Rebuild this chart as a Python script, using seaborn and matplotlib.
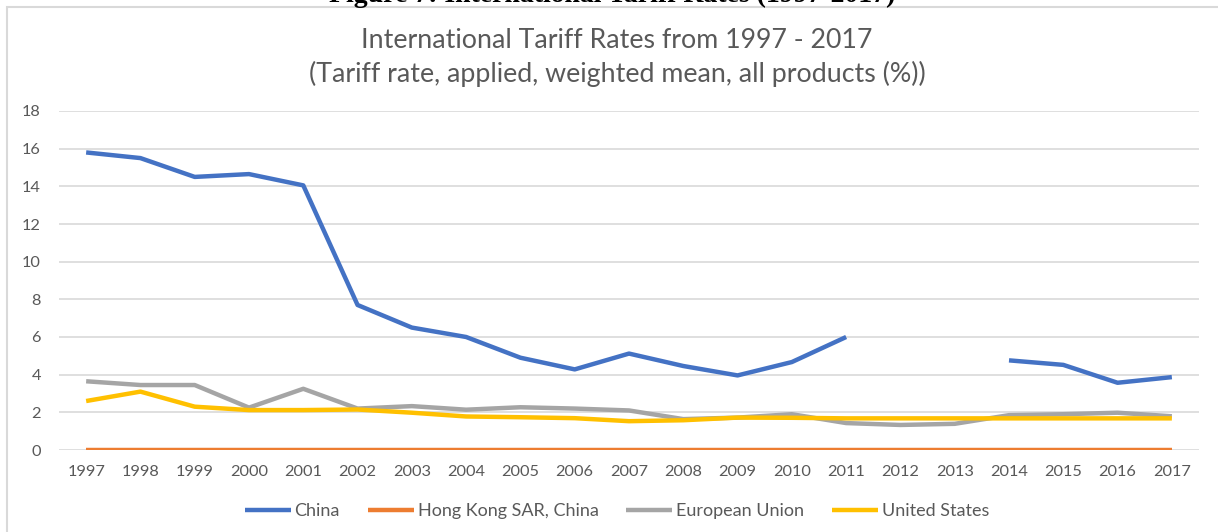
import numpy as np
import pandas as pd
import matplotlib
matplotlib.use("Agg")
import matplotlib.pyplot as plt
import seaborn as sns
from matplotlib.patches import Rectangle

sns.set_style("white")
plt.rcParams['font.family'] = ['Lato', 'DejaVu Sans']

# --------------------------- data ---------------------------
years = list(range(1997, 2018))
china = [15.8, 15.5, 14.5, 14.65, 14.05, 7.7, 6.5, 6.0, 4.9, 4.28, 5.12,
         4.46, 3.96, 4.67, 6.0, np.nan, np.nan, 4.76, 4.52, 3.57, 3.87]
hong_kong = [0.0] * 21
eu = [3.65, 3.45, 3.45, 2.25, 3.25, 2.2, 2.33, 2.14, 2.27, 2.2, 2.1,
      1.64, 1.72, 1.9, 1.43, 1.33, 1.39, 1.85, 1.9, 1.98, 1.79]
us = [2.6, 3.1, 2.3, 2.12, 2.12, 2.15, 1.98, 1.78, 1.74, 1.69, 1.53,
      1.58, 1.72, 1.71, 1.68, 1.68, 1.68, 1.68, 1.68, 1.68, 1.68]

series_names = ["China", "Hong Kong SAR, China", "European Union", "United States"]
series_values = [china, hong_kong, eu, us]
colors = ["#4472C4", "#ED7D31", "#A5A5A5", "#FFC000"]

title_line1 = "International Tariff Rates from 1997 - 2017"
title_line2 = "(Tariff rate, applied, weighted mean, all products (%))"
caption = "Figure 7: International Tariff Rates (1997-2017)"

text_color = "#595959"
lw = 3.2
fs = 11.8

# --------------------------- figure ---------------------------
fig = plt.figure(figsize=(12.18, 5.32), dpi=100)
ax = fig.add_axes([59 / 1218, 1 - 450 / 532, 1140 / 1218, 339 / 532])

# chart border (Excel chart area), runs off the right/bottom edges
fig.patches.append(Rectangle((7 / 1218, -0.1), 1.2, 1 - 7 / 532 + 0.1,
                             transform=fig.transFigure, fill=False,
                             edgecolor="#d9d9d9", linewidth=1.5, zorder=0))

# cropped document caption at very top (only its lower edge is visible)
fig.text(0.503, 1 - 2 / 532, caption, ha="center", va="baseline",
         fontsize=20, fontweight="bold", family="Liberation Serif", color="black")

for name, vals, col in zip(series_names, series_values, colors):
    df = pd.DataFrame({"year": years, "value": vals})
    # break the line where data is missing
    df["seg"] = df["value"].isna().cumsum()
    df = df.dropna()
    first = True
    for _, seg in df.groupby("seg"):
        sns.lineplot(data=seg, x="year", y="value", ax=ax, color=col,
                     linewidth=lw, label=name if first else "_nolegend_",
                     legend=False, solid_capstyle="butt", zorder=3)
        first = False

ax.set_xlim(1996.5, 2017.5)
ax.set_ylim(0, 18)
ax.set_xticks(years)
ax.set_xticklabels([str(y) for y in years])
ax.set_yticks(np.arange(0, 19, 2))
ax.set_xlabel("")
ax.set_ylabel("")
ax.grid(axis="y", color="#d9d9d9", linewidth=1.2)
ax.grid(axis="x", visible=False)
ax.set_axisbelow(True)
for sp in ax.spines.values():
    sp.set_visible(False)
ax.tick_params(axis="x", length=0, pad=11, labelsize=fs, labelcolor=text_color)
ax.tick_params(axis="y", length=0, pad=13, labelsize=fs, labelcolor=text_color)

fig.text(617 / 1218, 1 - 41 / 532, title_line1, ha="center", va="center",
         fontsize=19.3, color=text_color)
fig.text(617 / 1218, 1 - 74 / 532, title_line2, ha="center", va="center",
         fontsize=19.3, color=text_color)

handles, labels = ax.get_legend_handles_labels()
fig.legend(handles, labels, loc="center", bbox_to_anchor=(617 / 1218, 1 - 511 / 532),
           ncol=4, frameon=False, fontsize=13, handlelength=2.55,
           handletextpad=0.2, columnspacing=1.55, labelcolor=text_color)

fig.savefig("out.png", dpi=100)
